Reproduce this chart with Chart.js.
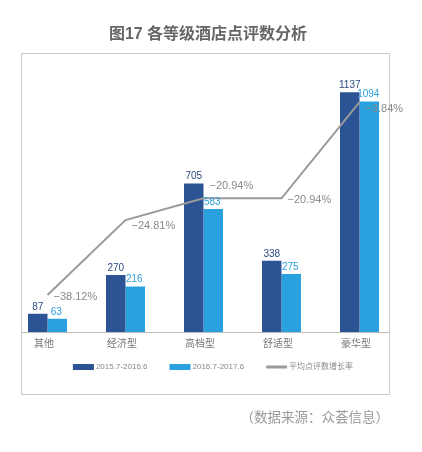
<!DOCTYPE html>
<html>
<head>
<meta charset="utf-8">
<script src="https://cdn.jsdelivr.net/npm/chart.js@4.4.0/dist/chart.umd.min.js"></script>
<style>
  html, body { margin: 0; padding: 0; background: #fff; }
</style>
</head>
<body>
<canvas id="chart" width="422" height="452"></canvas>
<script>
// data
const categories = ['其他', '经济型', '高档型', '舒适型', '豪华型'];
const reviewsA = [87, 270, 705, 338, 1137];     // 2015.7-2016.6
const reviewsB = [63, 216, 583, 275, 1094];     // 2016.7-2017.6
const growthRate = [-38.12, -24.81, -20.94, -20.94, -3.84];
const seriesNames = ['2015.7-2016.6', '2016.7-2017.6', '平均点评数增长率'];

// label nudges (style only)
const pctLabelDy = [2, 6, -12, 2, 7];

const DARK = '#2c5494';
const LIGHT = '#29a1de';
const GREY = '#9a9a9a';
const FONT = '"Liberation Sans", "Noto Sans CJK SC", sans-serif';

const fmtPct = v => v.toFixed(2).replace('-', '−') + '%';

const decorPlugin = {
  id: 'decor',
  beforeDraw(chart) {
    const c = chart.ctx;
    c.save();
    c.fillStyle = '#fff';
    c.fillRect(0, 0, chart.width, chart.height);
    // frame
    c.strokeStyle = '#c8c8c8';
    c.lineWidth = 1;
    c.strokeRect(21.5, 53.5, 368, 341);
    // title
    c.fillStyle = '#666';
    c.font = 'bold 16px ' + FONT;
    c.textAlign = 'center';
    c.textBaseline = 'middle';
    c.fillText('图17 各等级酒店点评数分析', 208, 35);
    // source
    c.fillStyle = '#999';
    c.font = '13.5px ' + FONT;
    c.textAlign = 'right';
    c.fillText('（数据来源：众荟信息）', 389, 418);
    c.restore();
  },
  beforeDatasetsDraw(chart) {
    // baseline only inside the frame
    const c = chart.ctx;
    const y0 = Math.round(chart.scales.y.getPixelForValue(0)) + 0.5;
    c.save();
    c.strokeStyle = '#bdbdbd';
    c.lineWidth = 1;
    c.beginPath();
    c.moveTo(22, y0);
    c.lineTo(389, y0);
    c.stroke();
    c.restore();
  },
  afterDatasetsDraw(chart) {
    const c = chart.ctx;
    c.save();
    // bar values
    c.font = '10px ' + FONT;
    c.textAlign = 'center';
    c.textBaseline = 'alphabetic';
    [[0, '#2a4a80', reviewsA, 0], [1, LIGHT, reviewsB, -1]].forEach(([di, col, vals, dx]) => {
      c.fillStyle = col;
      chart.getDatasetMeta(di).data.forEach((bar, i) => {
        c.fillText(String(vals[i]), bar.x + dx, bar.y - 4);
      });
    });
    // growth labels
    c.font = '11px ' + FONT;
    c.fillStyle = '#8a8a8a';
    c.textAlign = 'left';
    c.textBaseline = 'middle';
    chart.getDatasetMeta(2).data.forEach((pt, i) => {
      c.fillText(fmtPct(growthRate[i]), pt.x + 6, pt.y + pctLabelDy[i]);
    });
    c.restore();
  },
  afterDraw(chart) {
    // legend
    const c = chart.ctx;
    c.save();
    c.font = '8px ' + FONT;
    c.textBaseline = 'middle';
    c.textAlign = 'left';
    const items = chart.data.datasets.map(ds => ({
      text: ds.label,
      color: ds.type === 'line' ? ds.borderColor : ds.backgroundColor,
      line: ds.type === 'line'
    }));
    const sw = 21, gap = 2, between = 22;
    let total = 0;
    items.forEach((it, i) => {
      it.w = c.measureText(it.text).width;
      total += sw + gap + it.w + (i < items.length - 1 ? between : 0);
    });
    let x = 213 - total / 2;
    const y = 367;
    items.forEach(it => {
      c.fillStyle = it.color;
      if (it.line) c.fillRect(x, y - 1.5, sw, 3);
      else c.fillRect(x, y - 3, sw, 6);
      c.fillStyle = '#888';
      c.fillText(it.text, x + sw + gap, y);
      x += sw + gap + it.w + between;
    });
    c.restore();
  }
};

new Chart(document.getElementById('chart'), {
  type: 'bar',
  data: {
    labels: categories,
    datasets: [
      {
        label: seriesNames[0],
        data: reviewsA,
        backgroundColor: DARK,
        order: 2
      },
      {
        label: seriesNames[1],
        data: reviewsB,
        backgroundColor: LIGHT,
        order: 2
      },
      {
        type: 'line',
        label: seriesNames[2],
        data: growthRate,
        yAxisID: 'y1',
        borderColor: GREY,
        borderWidth: 2,
        pointRadius: 0,
        tension: 0,
        order: 1
      }
    ]
  },
  options: {
    responsive: false,
    animation: false,
    datasets: {
      bar: { categoryPercentage: 0.5, barPercentage: 1 }
    },
    layout: { padding: { left: 8.5, right: 23.5, top: 58, bottom: 96 } },
    plugins: {
      legend: { display: false },
      title: { display: false },
      tooltip: { enabled: false }
    },
    scales: {
      x: {
        grid: { display: false, drawTicks: false },
        border: { display: false },
        ticks: {
          color: '#777',
          font: { family: FONT, size: 10 },
          padding: 6,
          labelOffset: -3.5
        }
      },
      y: { display: false, min: 0, max: 1300 },
      y1: { display: false, min: -44.7, max: 4, position: 'right' }
    }
  },
  plugins: [decorPlugin]
});
</script>
</body>
</html>
